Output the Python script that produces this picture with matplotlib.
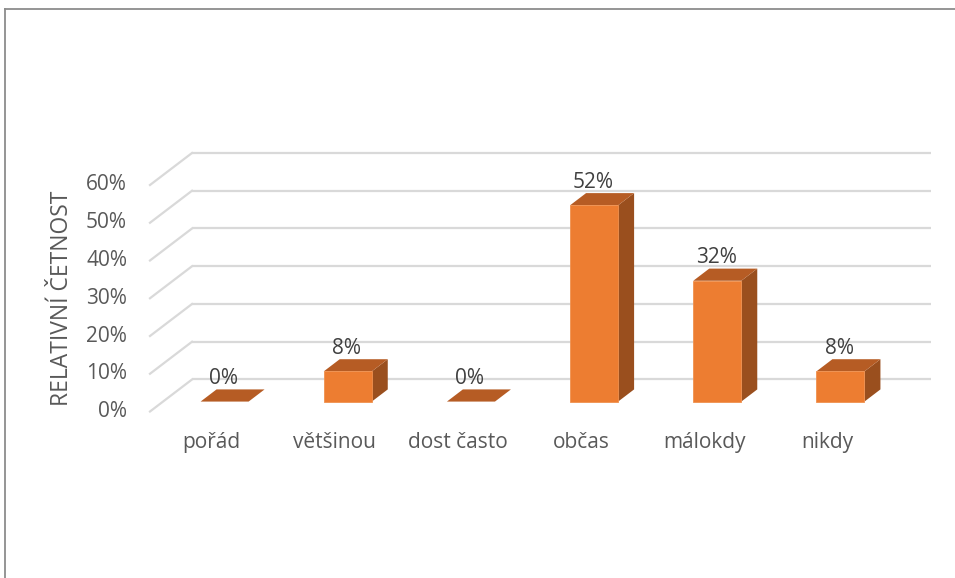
import matplotlib.pyplot as plt
from matplotlib.patches import Polygon
from matplotlib.lines import Line2D

plt.rcParams['font.family'] = ['Open Sans', 'DejaVu Sans']

categories = ['pořád', 'většinou', 'dost často', 'občas', 'málokdy', 'nikdy']
values = [0, 8, 0, 52, 32, 8]
ticks = [0, 10, 20, 30, 40, 50, 60]
tick_labels = ['0%', '10%', '20%', '30%', '40%', '50%', '60%']

FRONT = '#ED7D31'
TOP = '#B65C24'
SIDE = '#9A4F1E'
GRID = '#D9D9D9'
TEXT = '#595959'

# oblique projection: depth vector in data units (x = categories, y = percent)
DX, DY = 0.341, 8.48
bar_w = 0.39
d0, d1 = 0.31, 0.69

fig = plt.figure(figsize=(9.55, 5.78), dpi=100)
ax = fig.add_axes([0, 0, 1, 1])
ax.set_xlim(-150 / 123.17, (955 - 150) / 123.17)
ax.set_ylim((411.5 - 578) / 3.775, 411.5 / 3.775)
ax.axis('off')

# walls: back gridlines and the diagonal lines on the side wall
n = len(categories)
for t in ticks:
    ax.plot([DX, n + DX], [t + DY, t + DY], color=GRID, lw=1.6, zorder=1,
            solid_capstyle='butt')
    ax.plot([0, DX], [t, t + DY], color=GRID, lw=1.6, zorder=1)

for t, lab in zip(ticks, tick_labels):
    ax.annotate(lab, (0, t), xytext=(-23, 0), textcoords='offset pixels',
                ha='right', va='center', fontsize=15, color=TEXT)

ax.annotate('RELATIVNÍ ČETNOST', (0, 30), xytext=(-88, 0),
            textcoords='offset pixels', rotation=90, ha='center',
            va='center', fontsize=16.5, color=TEXT)

# 3D bars
for i, (cat, v) in enumerate(zip(categories, values)):
    x0 = i + 0.5 - bar_w / 2 + d0 * DX
    x1 = x0 + bar_w
    y0 = d0 * DY
    ddx, ddy = (d1 - d0) * DX, (d1 - d0) * DY
    side = [(x1, y0), (x1 + ddx, y0 + ddy), (x1 + ddx, y0 + ddy + v), (x1, y0 + v)]
    top = [(x0, y0 + v), (x1, y0 + v), (x1 + ddx, y0 + ddy + v), (x0 + ddx, y0 + ddy + v)]
    front = [(x0, y0), (x1, y0), (x1, y0 + v), (x0, y0 + v)]
    if v > 0:
        ax.add_patch(Polygon(side, closed=True, fc=SIDE, ec='none', zorder=2))
        ax.add_patch(Polygon(front, closed=True, fc=FRONT, ec='#F0914F',
                             lw=0.6, zorder=3))
    ax.add_patch(Polygon(top, closed=True, fc=TOP, ec='none', zorder=2))

    # value label above the top face
    ax.annotate(f'{v}%', ((x0 + x1) / 2, v + d1 * DY), xytext=(-1, 11),
                textcoords='offset pixels', ha='center', va='center',
                fontsize=15, color='#404040', zorder=4)

    # category label under the front edge
    ax.annotate(cat, (i + 0.5, 0), xytext=(0, -31),
                textcoords='offset pixels', ha='center', va='center',
                fontsize=15, color=TEXT)

# chart frame
fig.add_artist(Line2D([5 / 955, 1], [1 - 9 / 578, 1 - 9 / 578],
                      transform=fig.transFigure, color='#8C8C8C', lw=1.3))
fig.add_artist(Line2D([5 / 955, 5 / 955], [0, 1 - 9 / 578],
                      transform=fig.transFigure, color='#8C8C8C', lw=1.3))

fig.savefig('out.png', dpi=100, facecolor='white')
